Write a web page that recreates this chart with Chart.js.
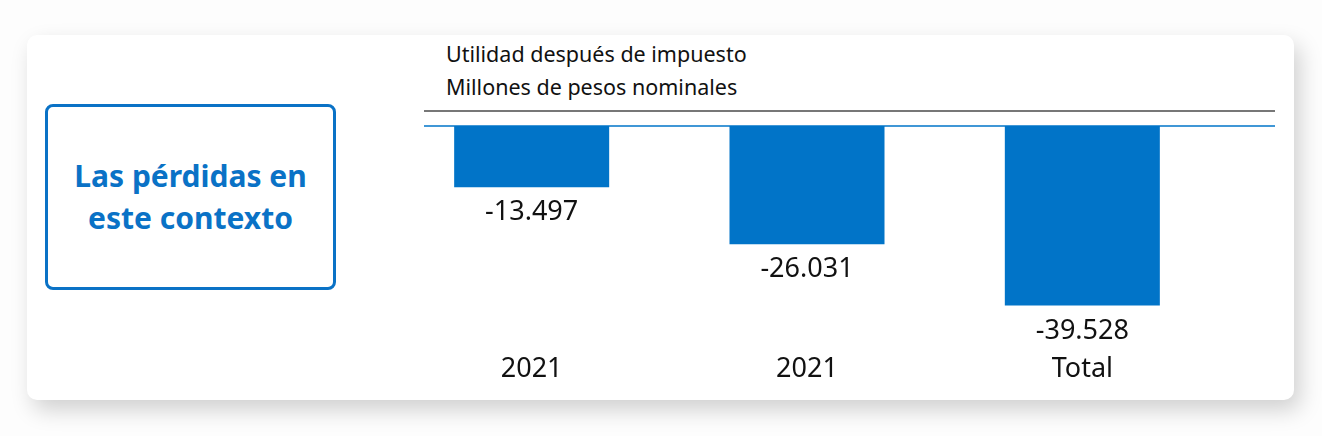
<!DOCTYPE html>
<html>
<head>
<meta charset="utf-8">
<script src="https://cdn.jsdelivr.net/npm/chart.js@4.4.1/dist/chart.umd.min.js"></script>
<style>
  html, body { margin: 0; padding: 0; background: #fdfdfd; width: 1322px; height: 436px; overflow: hidden; }
  body { position: relative; font-family: "Noto Sans", sans-serif; }
  .card {
    position: absolute; left: 27px; top: 35px; width: 1267px; height: 365px;
    background: #fff; border-radius: 10px;
    box-shadow: 6px 10px 22px rgba(0, 0, 0, 0.18);
  }
  .callout {
    position: absolute; left: 45px; top: 104px; width: 285px; height: 180px;
    border: 3px solid #0a72c6; border-radius: 8px;
    display: flex; align-items: center; justify-content: center; text-align: center;
    color: #0a72c6; font-weight: 700; font-size: 30px; line-height: 42px;
  }
  .heading {
    position: absolute; left: 446px; top: 37px;
    font-size: 21.5px; line-height: 33px; color: #111;
  }
  #chart { position: absolute; left: 0; top: 0; }
</style>
</head>
<body>
<div class="card"></div>
<div class="callout">Las pérdidas en<br>este contexto</div>
<div class="heading">Utilidad después de impuesto<br>Millones de pesos nominales</div>
<canvas id="chart" width="1322" height="436"></canvas>
<script>
// Datos
const categories = ['2021', '2021', 'Total'];
const losses = [-13497, -26031, -39528];

const BLUE = '#0174c8';

// miles con punto, estilo es-CL
const fmt = v => (v < 0 ? '-' : '') + Math.abs(v).toString().replace(/\B(?=(\d{3})+(?!\d))/g, '.');

// lineas de encabezado y cero, mas las etiquetas bajo cada barra
const decorPlugin = {
    id: 'decor',
    afterDatasetsDraw(chart) {
        const ctx = chart.ctx;
        const y0 = chart.scales.y.getPixelForValue(0);
        ctx.save();
        ctx.strokeStyle = '#777';
        ctx.lineWidth = 2;
        ctx.beginPath();
        ctx.moveTo(424, y0 - 15);
        ctx.lineTo(1275, y0 - 15);
        ctx.stroke();
        ctx.strokeStyle = BLUE;
        ctx.lineWidth = 1.5;
        ctx.beginPath();
        ctx.moveTo(424, y0);
        ctx.lineTo(1275, y0);
        ctx.stroke();

        ctx.fillStyle = '#111';
        ctx.font = '27px "Noto Sans"';
        ctx.textAlign = 'center';
        ctx.textBaseline = 'top';
        chart.getDatasetMeta(0).data.forEach((bar, i) => {
            ctx.fillText(fmt(losses[i]), bar.x, bar.y + 12);
        });
        ctx.restore();
    }
};

new Chart(document.getElementById('chart'), {
    type: 'bar',
    data: {
        labels: categories,
        datasets: [{
            data: losses,
            backgroundColor: BLUE,
            borderWidth: 0,
            barPercentage: 0.563,
            categoryPercentage: 1
        }]
    },
    options: {
        responsive: false,
        animation: false,
        layout: { padding: { left: 394, right: 102, top: 126, bottom: 4 } },
        plugins: { legend: { display: false }, tooltip: { enabled: false } },
        scales: {
            x: {
                grid: { display: false, drawTicks: false },
                border: { display: false },
                ticks: { color: '#111', font: { family: 'Noto Sans', size: 27 }, padding: 46 }
            },
            y: {
                display: false,
                min: -40000,
                max: 0
            }
        }
    },
    plugins: [decorPlugin]
});
</script>
</body>
</html>
